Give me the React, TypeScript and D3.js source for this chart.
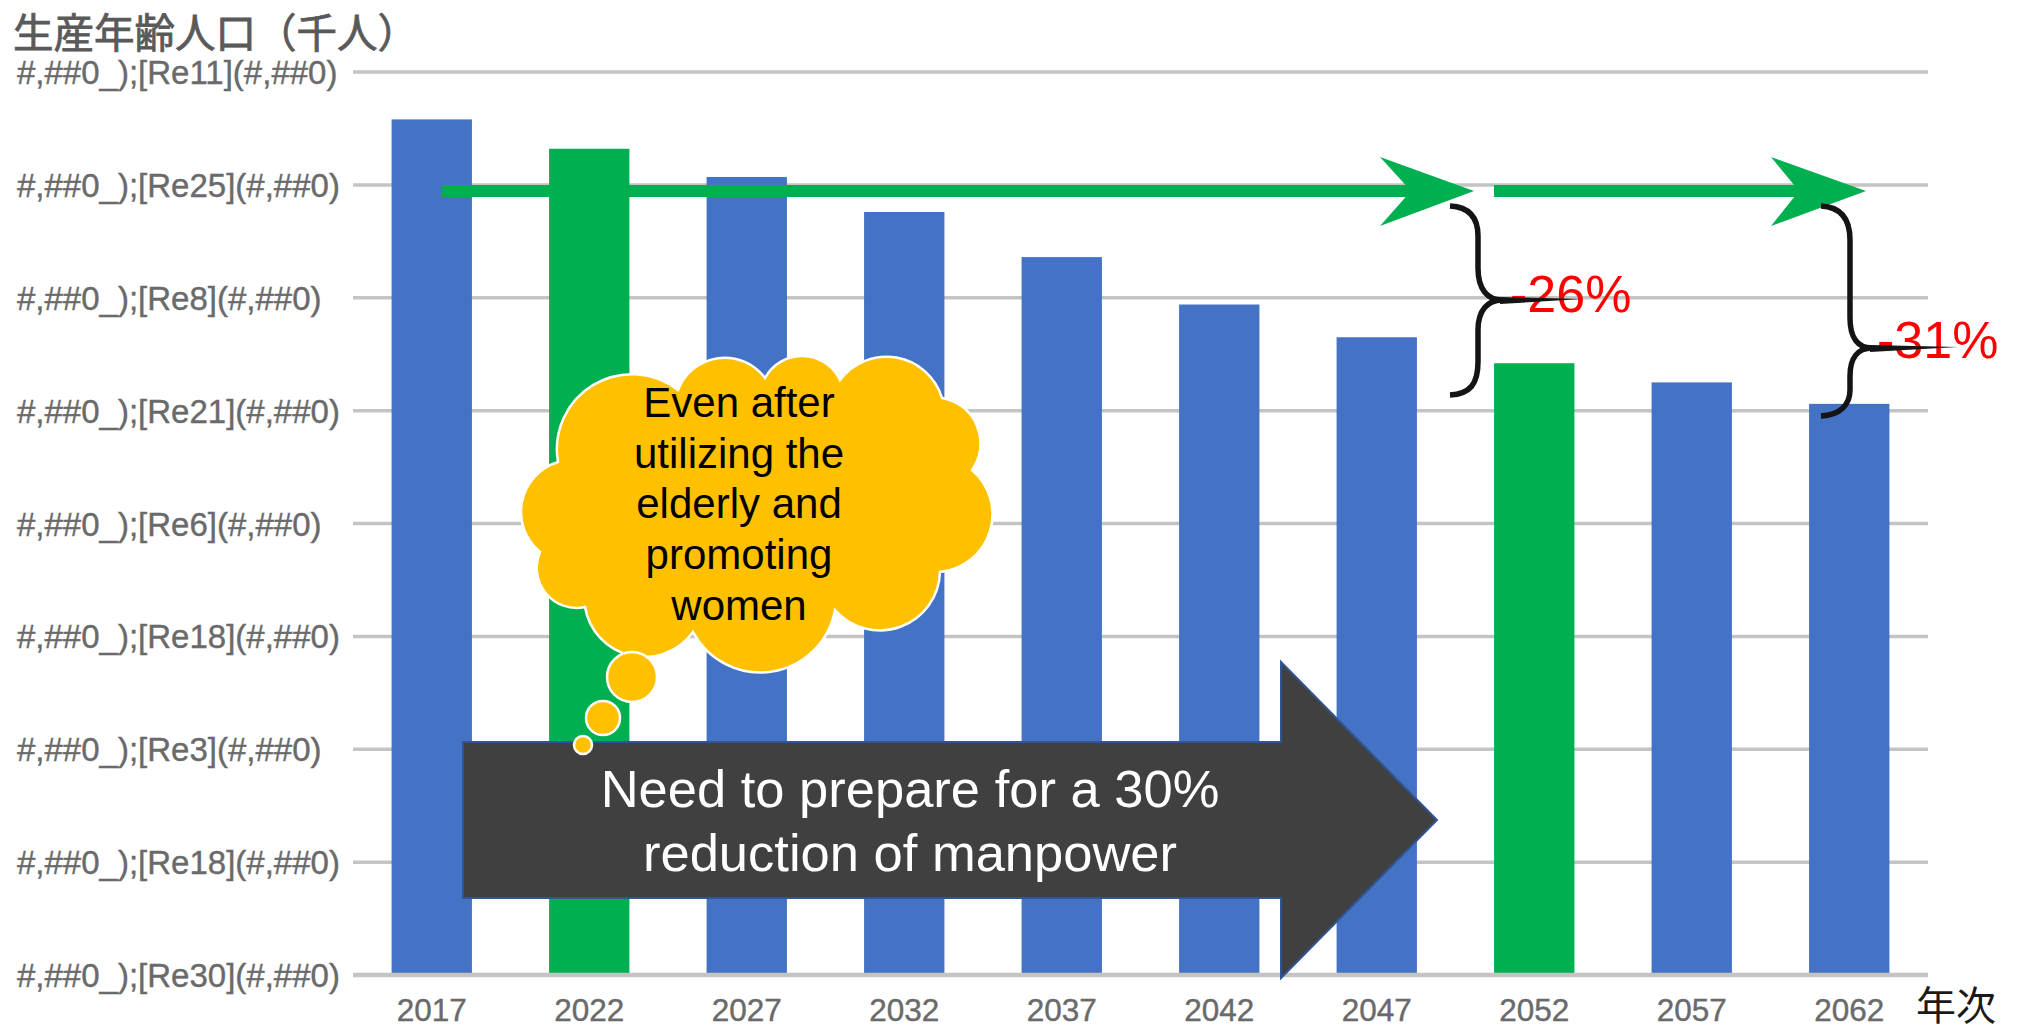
import React, { useEffect } from 'react';
import * as d3 from 'd3';

const years = ['2017', '2022', '2027', '2032', '2037', '2042', '2047', '2052', '2057', '2062'];
const population = [75800, 73200, 70700, 67600, 63600, 59400, 56500, 54200, 52500, 50600];
const highlightYears = ['2022', '2052'];
const yTickValues = [0, 10000, 20000, 30000, 40000, 50000, 60000, 70000, 80000];
const yTickLabels = [
  '#,##0_);[Re30](#,##0)',
  '#,##0_);[Re18](#,##0)',
  '#,##0_);[Re3](#,##0)',
  '#,##0_);[Re18](#,##0)',
  '#,##0_);[Re6](#,##0)',
  '#,##0_);[Re21](#,##0)',
  '#,##0_);[Re8](#,##0)',
  '#,##0_);[Re25](#,##0)',
  '#,##0_);[Re11](#,##0)',
];
const titleText = '生産年齢人口（千人）';
const xAxisTitle = '年次';
const cloudLines = ['Even after', 'utilizing the', 'elderly and', 'promoting', 'women'];
const arrowLines = ['Need to prepare for a 30%', 'reduction of manpower'];
const changeLabels = ['-26%', '-31%'];

const W = 2024;
const H = 1033;
const LATIN = '"Liberation Sans", Arial, "DejaVu Sans", sans-serif';
const CJK = '"Noto Sans CJK JP", "Noto Sans CJK SC", sans-serif';

export default function App() {
  useEffect(() => {
    document.body.style.margin = '0';
  }, []);

  const x = d3.scaleBand<string>().domain(years).range([353, 1928]).paddingInner(0.49).paddingOuter(0.245);
  const y = d3.scaleLinear().domain([0, 80000]).range([975, 72]);

  // cloud outline: clockwise points with arc radii
  const cloudStart: [number, number] = [558, 462];
  const cloudPts: [number, number, number][] = [
    [678, 390, 75],
    [765, 378, 50],
    [840, 380, 42],
    [942, 398, 58],
    [972, 470, 46],
    [940, 572, 58],
    [835, 610, 60],
    [693, 632, 76],
    [585, 607, 60],
    [540, 552, 40],
    [558, 462, 52],
  ];
  let cloudPath = `M${cloudStart[0]},${cloudStart[1]}`;
  cloudPts.forEach(([px, py, r]) => {
    cloudPath += ` A${r},${r} 0 0 1 ${px},${py}`;
  });
  cloudPath += ' Z';

  const greenArrow = (x0: number, notch: number, back: number, tip: number, cy: number) => (
    <g fill="#00B050">
      <rect x={x0} y={cy - 6} width={notch - x0 + 2} height={12} />
      <polygon points={`${back},${cy - 34} ${tip},${cy} ${back},${cy + 35} ${notch},${cy}`} />
    </g>
  );

  return (
    <svg width={W} height={H} style={{ position: 'absolute', left: 0, top: 0, background: '#fff' }}>
      <rect x={0} y={0} width={W} height={H} fill="#fff" />
      {/* title */}
      <text x={13} y={48} fontFamily={CJK} fontSize={40.5} fill="#595959" stroke="#595959" strokeWidth={0.8}>{titleText}</text>

      {/* gridlines */}
      {yTickValues.slice(1).map((v) => (
        <line key={v} x1={353} x2={1928} y1={y(v)} y2={y(v)} stroke="#C4C4C4" strokeWidth={3.5} />
      ))}

      {/* y tick labels */}
      {yTickValues.map((v, i) => (
        <text key={'yl' + i} x={17} y={y(v) + 12} fontFamily={LATIN} fontSize={33} fill="#6A6A6A"
          stroke="#6A6A6A" strokeWidth={0.4}>
          {yTickLabels[i]}
        </text>
      ))}

      {/* bars */}
      {years.map((yr, i) => (
        <rect
          key={yr}
          x={x(yr)}
          y={y(population[i])}
          width={x.bandwidth()}
          height={y(0) - y(population[i])}
          fill={highlightYears.includes(yr) ? '#00B050' : '#4472C4'}
        />
      ))}

      {/* baseline */}
      <line x1={353} x2={1928} y1={y(0)} y2={y(0)} stroke="#C4C4C4" strokeWidth={4.5} />

      {/* x labels */}
      {years.map((yr) => (
        <text key={'xl' + yr} x={(x(yr) as number) + x.bandwidth() / 2} y={1021} textAnchor="middle"
          fontFamily={LATIN} fontSize={31.5} fill="#6A6A6A" stroke="#6A6A6A" strokeWidth={0.4}>
          {yr}
        </text>
      ))}
      <text x={1916} y={1020} fontFamily={CJK} fontSize={40} fill="#1A1A1A">{xAxisTitle}</text>

      {/* green arrows */}
      {greenArrow(442, 1411, 1380, 1474, 191)}
      {greenArrow(1494, 1799, 1771, 1866, 191)}

      {/* braces */}
      <g fill="none" stroke="#141414" strokeWidth={5.5} strokeLinecap="butt">
        <path d="M1450,206 C1470,207 1478,218 1478,236 L1478,268 C1478,290 1488,300 1502,300 C1488,300 1478,310 1478,330 L1478,362 C1478,384 1470,394 1450,395" />
        <path d="M1821,206 C1842,207 1850,220 1850,240 L1850,318 C1850,338 1858,348 1872,348 C1858,348 1850,358 1850,376 L1850,390 C1850,405 1840,415 1821,416" />
      </g>

      {/* change labels */}
      <text x={1510} y={312} fontFamily={LATIN} fontSize={52} fill="#FF0000">{changeLabels[0]}</text>
      <text x={1877} y={358} fontFamily={LATIN} fontSize={52} fill="#FF0000">{changeLabels[1]}</text>
      <polygon points="1500,297 1582,299 1500,304" fill="#141414" />
      <polygon points="1870,345 1958,347 1870,352" fill="#141414" />

      {/* dark arrow */}
      <polygon
        points="463,742 1281,742 1281,662 1437,820 1281,978 1281,898 463,898"
        fill="#404040"
        stroke="#2F5597"
        strokeWidth={2}
      />
      {arrowLines.map((t, i) => (
        <text key={t} x={910} y={807 + i * 64} textAnchor="middle" fontFamily={LATIN} fontSize={52.5} fill="#FFFFFF">
          {t}
        </text>
      ))}

      {/* thought cloud */}
      <path d={cloudPath} fill="#FFC000" stroke="#FFFFFF" strokeWidth={2.5} />
      <circle cx={632} cy={677} r={25} fill="#FFC000" stroke="#FFFFFF" strokeWidth={2.5} />
      <circle cx={603} cy={718} r={17} fill="#FFC000" stroke="#FFFFFF" strokeWidth={2.5} />
      <circle cx={583} cy={745} r={9} fill="#FFC000" stroke="#FFFFFF" strokeWidth={2.5} />
      {cloudLines.map((t, i) => (
        <text key={t} x={739} y={417 + i * 50.7} textAnchor="middle" fontFamily={LATIN} fontSize={42} fill="#000000">
          {t}
        </text>
      ))}
    </svg>
  );
}
